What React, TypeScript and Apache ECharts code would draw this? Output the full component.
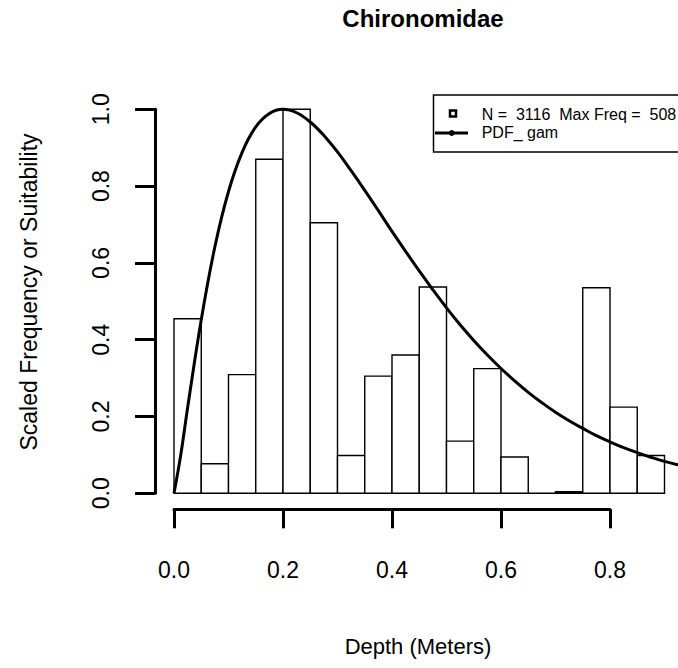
import React, { useEffect, useRef } from "react";
import * as echarts from "echarts";

// Histogram bins (Depth, meters) and counts
const binEdges = [0, 0.05, 0.1, 0.15, 0.2, 0.25, 0.3, 0.35, 0.4, 0.45, 0.5, 0.55, 0.6, 0.65, 0.7, 0.75, 0.8, 0.85, 0.9];
const binCounts = [231, 39, 157, 442, 508, 358, 50, 155, 183, 273, 69, 165, 48, 0, 2, 272, 114, 50];
const maxFreq = 508;

// Scaled gamma PDF curve
const pdfDepth = [0, 0.0125, 0.025, 0.05, 0.075, 0.1, 0.125, 0.15, 0.175, 0.2, 0.225, 0.25, 0.275, 0.3, 0.325, 0.35, 0.375, 0.4, 0.425, 0.45, 0.475, 0.5, 0.525, 0.55, 0.575, 0.6, 0.625, 0.65, 0.675, 0.7, 0.725, 0.75, 0.775, 0.8, 0.825, 0.85, 0.875, 0.9, 0.925, 0.95];
const pdfValue = [0, 0.101, 0.223, 0.452, 0.642, 0.786, 0.888, 0.954, 0.989, 1.0, 0.991, 0.967, 0.932, 0.889, 0.84, 0.789, 0.736, 0.682, 0.63, 0.579, 0.53, 0.483, 0.439, 0.398, 0.36, 0.325, 0.293, 0.263, 0.236, 0.211, 0.189, 0.169, 0.15, 0.134, 0.119, 0.106, 0.094, 0.083, 0.074, 0.065];

const xTicks = [0, 0.2, 0.4, 0.6, 0.8];
const yTicks = [0, 0.2, 0.4, 0.6, 0.8, 1.0];

const titleText = "Chironomidae";
const xTitle = "Depth (Meters)";
const yTitle = "Scaled Frequency or Suitability";
const legendLabels = ["N =  3116  Max Freq =  508", "PDF_ gam"];

const FONT = "'Liberation Sans', Arial, Helvetica, sans-serif";

export default function App() {
  const ref = useRef<HTMLDivElement>(null);

  useEffect(() => {
    if (!ref.current) return;
    const chart = echarts.init(ref.current, null, { renderer: "svg" });

    const histData = binCounts.map((c, i) => [binEdges[i], binEdges[i + 1], c / maxFreq]);
    const curveData = pdfDepth.map((d, i) => [d, pdfValue[i]]);

    const pxPerX = 545;
    const x0 = 174;
    const y0 = 493.3;
    const pxPerY = 384;
    const xMax = 0.924;

    const option: any = {
      animation: false,
      backgroundColor: "#fff",
      textStyle: { fontFamily: FONT, color: "#000" },
      grid: [
        { left: x0, top: y0 - 1.1 * pxPerY, width: xMax * pxPerX, height: 1.1 * pxPerY, containLabel: false },
        { left: x0, top: 508.3, width: xTicks[xTicks.length - 1] * pxPerX, height: 1, containLabel: false },
        { left: 155, top: y0 - pxPerY, width: 1, height: pxPerY, containLabel: false },
      ],
      xAxis: [
        { gridIndex: 0, type: "value", min: 0, max: xMax, show: false },
        {
          gridIndex: 1,
          type: "value",
          min: xTicks[0],
          max: xTicks[xTicks.length - 1],
          interval: 0.2,
          position: "bottom",
          axisLine: { show: true, lineStyle: { color: "#000", width: 3 } },
          axisTick: { show: true, length: 19, lineStyle: { color: "#000", width: 3 } },
          axisLabel: {
            show: true,
            margin: 49,
            fontSize: 23,
            fontFamily: FONT,
            color: "#000",
            formatter: (v: number) => v.toFixed(1),
          },
          splitLine: { show: false },
        },
        { gridIndex: 2, type: "value", show: false },
      ],
      yAxis: [
        { gridIndex: 0, type: "value", min: 0, max: 1.1, show: false },
        { gridIndex: 1, type: "value", show: false },
        {
          gridIndex: 2,
          type: "value",
          min: yTicks[0],
          max: yTicks[yTicks.length - 1],
          interval: 0.2,
          position: "left",
          axisLine: { show: true, lineStyle: { color: "#000", width: 3 } },
          axisTick: { show: true, length: 20, lineStyle: { color: "#000", width: 3 } },
          axisLabel: {
            show: true,
            rotate: 90,
            margin: 43,
            fontSize: 23,
            fontFamily: FONT,
            color: "#000",
            formatter: (v: number) => v.toFixed(1),
          },
          splitLine: { show: false },
        },
      ],
      series: [
        {
          type: "custom",
          name: legendLabels[0],
          xAxisIndex: 0,
          yAxisIndex: 0,
          data: histData,
          encode: { x: [0, 1], y: 2 },
          z: 2,
          renderItem: (params: any, api: any) => {
            const a = api.coord([api.value(0), api.value(2)]);
            const b = api.coord([api.value(1), 0]);
            return {
              type: "rect",
              shape: { x: a[0], y: a[1], width: b[0] - a[0], height: b[1] - a[1] },
              style: { fill: "#fff", stroke: "#000", lineWidth: 1.4 },
            };
          },
        },
        {
          type: "line",
          name: legendLabels[1],
          xAxisIndex: 0,
          yAxisIndex: 0,
          data: curveData,
          smooth: 0.4,
          showSymbol: false,
          symbol: "none",
          z: 5,
          lineStyle: { color: "#000", width: 3 },
        },
      ],
      graphic: [
        {
          type: "text",
          x: 423,
          y: 18,
          style: { text: titleText, font: `bold 24px ${FONT}`, fill: "#000", align: "center", verticalAlign: "middle" },
        },
        {
          type: "text",
          x: 418,
          y: 646,
          style: { text: xTitle, font: `22px ${FONT}`, fill: "#000", align: "center", verticalAlign: "middle" },
        },
        {
          type: "text",
          x: 29,
          y: 292,
          rotation: Math.PI / 2,
          style: { text: yTitle, font: `23px ${FONT}`, fill: "#000", align: "center", verticalAlign: "middle" },
        },
        {
          type: "rect",
          shape: { x: 433.5, y: 95, width: 300, height: 57 },
          style: { fill: "transparent", stroke: "#000", lineWidth: 1.5 },
          z: 10,
        },
        {
          type: "rect",
          shape: { x: 450, y: 110.5, width: 6, height: 6 },
          style: { fill: "#fff", stroke: "#000", lineWidth: 2.5 },
          z: 10,
        },
        {
          type: "line",
          shape: { x1: 435, y1: 133, x2: 468, y2: 133 },
          style: { stroke: "#000", lineWidth: 3 },
          z: 10,
        },
        {
          type: "circle",
          shape: { cx: 451.7, cy: 133, r: 3 },
          style: { fill: "#000" },
          z: 10,
        },
        {
          type: "text",
          x: 481.7,
          y: 114,
          style: { text: legendLabels[0], font: `16px ${FONT}`, fill: "#000", align: "left", verticalAlign: "middle" },
          z: 10,
        },
        {
          type: "text",
          x: 481.7,
          y: 132.5,
          style: { text: legendLabels[1], font: `16px ${FONT}`, fill: "#000", align: "left", verticalAlign: "middle" },
          z: 10,
        },
      ],
    };

    chart.setOption(option);
    return () => chart.dispose();
  }, []);

  return (
    <div
      ref={ref}
      style={{ position: "fixed", left: 0, top: 0, width: 678, height: 668, background: "#fff" }}
    />
  );
}
